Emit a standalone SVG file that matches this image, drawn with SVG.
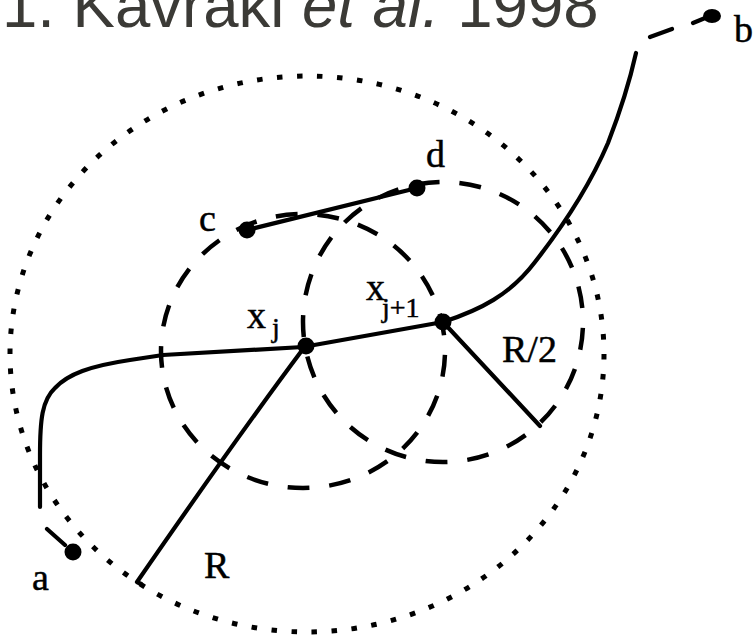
<svg xmlns="http://www.w3.org/2000/svg" width="753" height="638" viewBox="0 0 753 638">
<style>
.title{font-family:"Liberation Sans",Arial,sans-serif;font-size:63.5px;fill:#3b3a36}
.lbl{font-family:"Liberation Serif","Times New Roman",serif;font-size:38px;fill:#000;stroke:#000;stroke-width:0.5}
.sub{font-size:28px}
.solid{fill:none;stroke:#000;stroke-width:4.2;stroke-linecap:round;stroke-linejoin:round}
.dash{fill:none;stroke:#000;stroke-width:4.5}
.dot{fill:none;stroke:#000;stroke-width:5}
.node{fill:#000}
</style>
<rect width="753" height="638" fill="#fff"/>
<text class="title" x="2" y="27">1. Kavraki <tspan font-style="italic">et al.</tspan> 1998</text>
<g id="connectors">
  <ellipse class="dot" cx="307" cy="354" rx="297" ry="278" pathLength="1800" stroke-dasharray="5.5 14.5"/>
  <ellipse class="dash" cx="303" cy="351" rx="142" ry="137" pathLength="882" stroke-dasharray="22 20" stroke-dashoffset="-4"/>
  <circle class="dash" cx="443" cy="322" r="140" pathLength="882" stroke-dasharray="22 20" stroke-dashoffset="-6"/>
  <path class="solid" d="M40,507 L40,455 C40,420 42,400 55,388 C68,374 90,366 130,360 L163,355 L303,347 L443,322 C480,310 510,295 535,262 C560,230 590,185 608,143 C620,112 630,80 636,53"/>
  <path class="solid" d="M47,529 L65,545 M650,37 L672,29 M693,23 L710,16"/>
  <path class="solid" d="M247,230 L417,188" stroke-width="5"/>
  <path class="solid" d="M303,349 Q235,440 137,582 L141,584"/>
  <path class="solid" d="M443,322 L540,426"/>
  <text class="lbl" x="204" y="578">R</text>
  <text class="lbl" x="502" y="362">R/2</text>
</g>
<g id="node-a"><circle class="node" cx="73" cy="552" r="8.5"/><text class="lbl" x="32" y="590">a</text></g>
<g id="node-b"><ellipse class="node" cx="712" cy="16" rx="9" ry="7"/><text class="lbl" x="734" y="42">b</text></g>
<g id="node-c"><circle class="node" cx="247" cy="230" r="8.5"/><text class="lbl" x="199" y="231">c</text></g>
<g id="node-d"><circle class="node" cx="417" cy="188" r="8.5"/><text class="lbl" x="426" y="167">d</text></g>
<g id="node-xj"><circle class="node" cx="306" cy="346" r="8.5"/><text class="lbl" x="247" y="328" font-size="36">x<tspan class="sub" x="272" y="337">j</tspan></text></g>
<g id="node-xj1"><circle class="node" cx="443" cy="322" r="8.5"/><text class="lbl" x="366" y="300" font-size="36">x<tspan class="sub" x="382" y="317">j+1</tspan></text></g>
</svg>
